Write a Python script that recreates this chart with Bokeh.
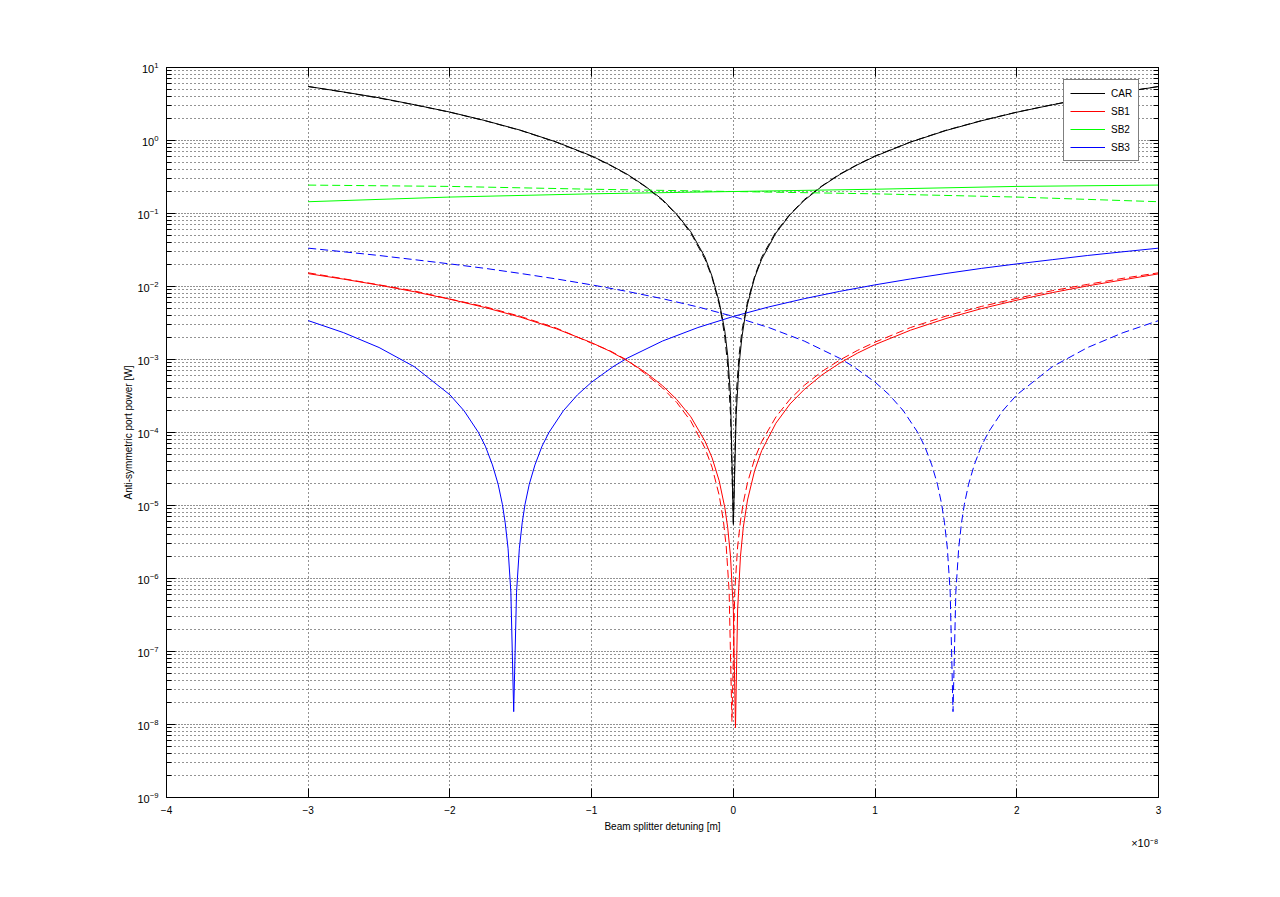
from bokeh.plotting import figure
from bokeh.models import (Range1d, LogAxis, LinearAxis, FixedTicker, Legend, LegendItem,
                          CustomJSTickFormatter, LogTickFormatter, Title)
from bokeh.embed import file_html
from bokeh.resources import INLINE

# ---------------- data (x in units of 1e-8 m) ----------------
car_x = [-3, -2.75, -2.5, -2.25, -2, -1.75, -1.5, -1.25, -1, -0.875, -0.75, -0.625, -0.5,
         -0.4, -0.3, -0.2, -0.15, -0.1, -0.08, -0.06, -0.04, -0.02, 0, 0.02, 0.04, 0.06,
         0.08, 0.1, 0.15, 0.2, 0.3, 0.4, 0.5, 0.625, 0.75, 0.875, 1, 1.25, 1.5, 1.75, 2,
         2.25, 2.5, 2.75, 3]
car_solid = [5.5, 4.62, 3.85, 3.09, 2.45, 1.87, 1.38, 0.955, 0.615, 0.468, 0.346, 0.239,
             0.155, 0.0978, 0.0561, 0.0252, 0.01375, 0.00615, 0.00391, 0.00243, 0.00113,
             3.2e-4, 5.5e-6, 1.77e-4, 8.4e-4, 1.99e-3, 3.6e-3, 5.7e-3, 0.0132, 0.0237,
             0.0539, 0.0963, 0.151, 0.236, 0.341, 0.464, 0.607, 0.95, 1.37, 1.86, 2.44,
             3.08, 3.81, 4.6, 5.48]
car_dashed = [5.48, 4.6, 3.81, 3.08, 2.44, 1.86, 1.37, 0.95, 0.607, 0.464, 0.341, 0.236,
              0.151, 0.0963, 0.0539, 0.0237, 0.0132, 5.7e-3, 3.6e-3, 1.99e-3, 8.4e-4,
              1.77e-4, 5.5e-6, 3.2e-4, 0.00113, 0.00243, 0.00391, 0.00615, 0.01375, 0.0252,
              0.0561, 0.0978, 0.155, 0.239, 0.346, 0.468, 0.615, 0.955, 1.38, 1.87, 2.45,
              3.09, 3.85, 4.62, 5.5]

sb1_x_solid = [-3, -2.75, -2.5, -2.25, -2, -1.75, -1.5, -1.25, -1, -0.875, -0.75, -0.625,
               -0.5, -0.4, -0.3, -0.2, -0.15, -0.1, -0.06, -0.04, -0.02, 0, 0.015, 0.03,
               0.05, 0.07, 0.1, 0.15, 0.2, 0.3, 0.4, 0.5, 0.625, 0.75, 0.875, 1, 1.25, 1.5,
               1.75, 2, 2.25, 2.5, 2.75, 3]
sb1_solid = [0.0150, 0.01261, 0.01044, 0.00847, 0.0067, 0.00514, 0.00379, 0.00264, 0.0017,
             1.31e-3, 9.65e-4, 6.76e-4, 4.38e-4, 2.84e-4, 1.64e-4, 7.6e-5, 4.49e-5, 2.18e-5,
             9.3e-6, 5.0e-6, 2.0e-6, 3.7e-7, 9e-9, 3.7e-7, 2.0e-6, 5.0e-6, 1.19e-5, 3.0e-5,
             5.65e-5, 1.34e-4, 2.46e-4, 3.88e-4, 6.14e-4, 8.9e-4, 1.22e-3, 1.6e-3, 2.52e-3,
             3.64e-3, 4.97e-3, 6.5e-3, 8.24e-3, 0.0102, 0.01234, 0.0149]
sb1_x_dashed = [-3, -2.75, -2.5, -2.25, -2, -1.75, -1.5, -1.25, -1, -0.875, -0.75, -0.625,
                -0.5, -0.4, -0.3, -0.2, -0.15, -0.1, -0.07, -0.05, -0.03, -0.01, 0.01, 0.03,
                0.05, 0.07, 0.1, 0.15, 0.2, 0.3, 0.4, 0.5, 0.625, 0.75, 0.875, 1, 1.25, 1.5,
                1.75, 2, 2.25, 2.5, 2.75, 3]
sb1_dashed = [0.0154, 0.01276, 0.01054, 0.00868, 0.00673, 0.00527, 0.00388, 0.0027, 0.00167,
              1.33e-3, 9.8e-4, 6.47e-4, 4.08e-4, 2.59e-4, 1.43e-4, 6.1e-5, 3.33e-5, 1.38e-5,
              6.1e-6, 2.7e-6, 6.8e-7, 1.1e-8, 6.8e-7, 2.7e-6, 6.1e-6, 1.09e-5, 2.06e-5,
              4.35e-5, 7.5e-5, 1.63e-4, 2.86e-4, 4.42e-4, 6.85e-4, 9.8e-4, 1.33e-3, 1.73e-3,
              2.74e-3, 3.93e-3, 5.33e-3, 6.87e-3, 8.76e-3, 0.0107, 0.01295, 0.0154]

sb2_x = [-3, -2, -1, 0, 1, 2, 3]
sb2_solid = [0.145, 0.168, 0.186, 0.200, 0.215, 0.235, 0.245]
sb2_dashed = [0.245, 0.235, 0.215, 0.200, 0.186, 0.168, 0.145]

sb3_x_solid = [-3, -2.75, -2.5, -2.25, -2, -1.9, -1.8, -1.75, -1.7, -1.66, -1.63, -1.61,
               -1.59, -1.57, -1.55, -1.53, -1.51, -1.49, -1.47, -1.44, -1.4, -1.35, -1.3,
               -1.2, -1.1, -1, -0.85, -0.75, -0.5, -0.25, 0, 0.25, 0.5, 0.75, 1, 1.25, 1.5,
               1.75, 2, 2.25, 2.5, 2.75, 3]
sb3_solid = [3.41e-3, 2.33e-3, 1.46e-3, 7.94e-4, 3.28e-4, 1.98e-4, 1.01e-4, 6.5e-5, 3.6e-5,
             1.96e-5, 1.04e-5, 5.8e-6, 2.6e-6, 6.5e-7, 1.5e-8, 6.5e-7, 2.6e-6, 5.8e-6,
             1.04e-5, 1.96e-5, 3.6e-5, 6.5e-5, 1.01e-4, 1.98e-4, 3.28e-4, 4.9e-4, 7.94e-4,
             1.04e-3, 1.79e-3, 2.74e-3, 3.89e-3, 5.25e-3, 6.81e-3, 8.57e-3, 0.01053, 0.0127,
             0.01507, 0.0177, 0.0204, 0.0233, 0.0266, 0.0299, 0.0335]
sb3_x_dashed = [-3, -2.75, -2.5, -2.25, -2, -1.75, -1.5, -1.25, -1, -0.75, -0.5, -0.25, 0,
                0.25, 0.5, 0.75, 0.85, 1, 1.1, 1.2, 1.3, 1.35, 1.4, 1.44, 1.47, 1.49, 1.51,
                1.53, 1.55, 1.57, 1.59, 1.61, 1.63, 1.66, 1.7, 1.75, 1.8, 1.9, 2, 2.25, 2.5,
                2.75, 3]
sb3_dashed = [0.0335, 0.0299, 0.0266, 0.0233, 0.0204, 0.0177, 0.01507, 0.0127, 0.01053,
              8.57e-3, 6.81e-3, 5.25e-3, 3.89e-3, 2.74e-3, 1.79e-3, 1.04e-3, 7.94e-4, 4.9e-4,
              3.28e-4, 1.98e-4, 1.01e-4, 6.5e-5, 3.6e-5, 1.96e-5, 1.04e-5, 5.8e-6, 2.6e-6,
              6.5e-7, 1.5e-8, 6.5e-7, 2.6e-6, 5.8e-6, 1.04e-5, 1.96e-5, 3.6e-5, 6.5e-5,
              1.01e-4, 1.98e-4, 3.28e-4, 7.94e-4, 1.46e-3, 2.33e-3, 3.41e-3]

x_ticks = [-4, -3, -2, -1, 0, 1, 2, 3]
y_exponents = [-9, -8, -7, -6, -5, -4, -3, -2, -1, 0, 1]
legend_labels = ["CAR", "SB1", "SB2", "SB3"]
colors = ["#000000", "#ff0000", "#00ff00", "#0000ff"]

FONT = "Liberation Sans"

# ---------------- figure ----------------
p = figure(width=1264, height=881, x_range=Range1d(-4, 3), y_range=Range1d(1e-9, 10),
           y_axis_type="log", output_backend="svg", toolbar_location=None,
           min_border_left=166, min_border_right=106, min_border_top=67,
           min_border_bottom=84)
p.outline_line_color = "black"
p.background_fill_color = "white"
p.border_fill_color = "white"

y_major = [10.0 ** e for e in y_exponents]
y_minor = [m * 10.0 ** e for e in y_exponents[:-1] for m in range(2, 10)]
yticker = FixedTicker(ticks=y_major, minor_ticks=y_minor)
xticker = FixedTicker(ticks=x_ticks)
blank = CustomJSTickFormatter(code="return ''")

# grids
p.xgrid.ticker = xticker
p.xgrid.grid_line_color = "black"
p.xgrid.grid_line_dash = "1 3"
p.xgrid.grid_line_alpha = 0.85
p.ygrid.ticker = yticker
p.ygrid.grid_line_color = "black"
p.ygrid.grid_line_dash = "1 2"
p.ygrid.grid_line_alpha = 0.85
p.ygrid.minor_grid_line_color = "black"
p.ygrid.minor_grid_line_dash = "1 3"
p.ygrid.minor_grid_line_alpha = 0.85


def style(ax, minor):
    ax.axis_line_color = "black"
    ax.major_tick_line_color = "black"
    ax.major_tick_in = 9
    ax.major_tick_out = 0
    ax.major_label_text_color = "black"
    ax.axis_label_text_color = "black"
    if minor:
        ax.minor_tick_line_color = "black"
        ax.minor_tick_in = 5
        ax.minor_tick_out = 0
    else:
        ax.minor_tick_line_color = None


# bottom axis
xa = p.xaxis[0]
xa.ticker = xticker
style(xa, False)
xa.major_label_text_font = FONT
xa.major_label_text_font_size = "10px"
xa.major_label_standoff = 8
xa.axis_label = "Beam splitter detuning [m]"
xa.axis_label_text_font = FONT
xa.axis_label_text_font_size = "10px"
xa.axis_label_text_font_style = "normal"
xa.axis_label_standoff = 4

# left axis
ya = p.yaxis[0]
ya.ticker = yticker
ya.formatter = LogTickFormatter()
style(ya, True)
ya.major_label_text_font = FONT
ya.major_label_text_font_size = "11px"
ya.major_label_standoff = 8
ya.axis_label = "Anti-symmetric port power [W]"
ya.axis_label_text_font = FONT
ya.axis_label_text_font_size = "10px"
ya.axis_label_text_font_style = "normal"
ya.axis_label_standoff = 0

# top and right axes (box ticks)
top = LinearAxis(ticker=xticker, formatter=blank)
style(top, False)
p.add_layout(top, "above")
right = LogAxis(ticker=yticker, formatter=blank)
style(right, True)
p.add_layout(right, "right")

# x multiplier
mult = Title(text="\u00d710\u207b\u2078", align="right", text_font=FONT,
             text_font_size="11px", text_font_style="normal", text_color="black",
             standoff=0)
p.add_layout(mult, "below")

# ---------------- lines ----------------
r_car = p.line(car_x, car_solid, line_color=colors[0], line_width=1)
r_sb1 = p.line(sb1_x_solid, sb1_solid, line_color=colors[1], line_width=1)
r_sb2 = p.line(sb2_x, sb2_solid, line_color=colors[2], line_width=1)
r_sb3 = p.line(sb3_x_solid, sb3_solid, line_color=colors[3], line_width=1)
p.line(car_x, car_dashed, line_color=colors[0], line_width=1, line_dash="8 4")
p.line(sb1_x_dashed, sb1_dashed, line_color=colors[1], line_width=1, line_dash="8 4")
p.line(sb2_x, sb2_dashed, line_color=colors[2], line_width=1, line_dash="8 4")
p.line(sb3_x_dashed, sb3_dashed, line_color=colors[3], line_width=1, line_dash="8 4")

# ---------------- legend ----------------
legend = Legend(items=[LegendItem(label=l, renderers=[r])
                       for l, r in zip(legend_labels, [r_car, r_sb1, r_sb2, r_sb3])],
                location=(897, 636), border_line_color="black", border_line_width=1,
                background_fill_color="white", background_fill_alpha=1,
                label_text_font=FONT, label_text_font_size="10px",
                label_text_color="black",
                glyph_width=35, glyph_height=14, label_height=14, spacing=4,
                padding=6, margin=0, label_standoff=6)
p.add_layout(legend)

open("out.html", "w").write(file_html(p, INLINE))
